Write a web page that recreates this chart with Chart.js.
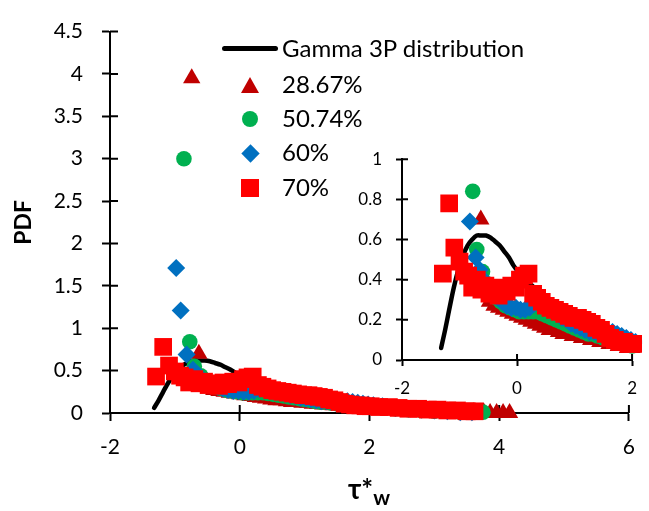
<!DOCTYPE html>
<html>
<head>
<meta charset="utf-8">
<script src="https://cdn.jsdelivr.net/npm/chart.js@4.4.0/dist/chart.umd.min.js"></script>
<style>
  html, body { margin:0; padding:0; background:#fff; }
  #wrap { position:relative; width:649px; height:511px; font-family: Lato, sans-serif; color:#000; }
  #mainChart { position:absolute; left:0; top:0; }
  #insetChart { position:absolute; left:330px; top:135px; }
  .legTxt { position:absolute; left:282px; font-size:24px; line-height:28px; white-space:nowrap; }
  .mk { position:absolute; }
  #xTitle { position:absolute; left:348px; top:471px; font-size:28px; font-weight:bold; white-space:nowrap; }
  #xTitle sub { font-size:21px; vertical-align:-6px; }
</style>
</head>
<body>
<div id="wrap">
  <canvas id="mainChart" width="649" height="511"></canvas>
  <canvas id="insetChart" width="319" height="270"></canvas>

  <!-- leyenda -->
  <div class="mk" style="left:222px;top:46px;width:56px;height:5px;background:#000;border-radius:3px;"></div>
  <div class="legTxt" style="top:34px;">Gamma 3P distribution</div>
  <div class="mk" style="left:241px;top:77px;width:0;height:0;border-left:9px solid transparent;border-right:9px solid transparent;border-bottom:16px solid #C00000;"></div>
  <div class="legTxt" style="top:70px;">28.67%</div>
  <div class="mk" style="left:242px;top:111px;width:16px;height:16px;border-radius:50%;background:#00B050;"></div>
  <div class="legTxt" style="top:104px;">50.74%</div>
  <div class="mk" style="left:243.5px;top:146.5px;width:13px;height:13px;background:#0070C0;transform:rotate(45deg);"></div>
  <div class="legTxt" style="top:138px;">60%</div>
  <div class="mk" style="left:241px;top:179px;width:18px;height:18px;background:#FF0000;"></div>
  <div class="legTxt" style="top:173px;">70%</div>

  <div id="xTitle">τ*<sub>w</sub></div>
</div>

<script>
/* ============================================================
   DATOS
============================================================ */

// Gamma 3P distribution (línea)
const gammaX = [-1.32,-1.25,-1.18,-1.10,-1.02,-0.94,-0.86,-0.78,-0.70,-0.62,-0.54,-0.46,-0.38,-0.30,-0.22,-0.14,-0.06,0.02,0.15,0.30,0.45,0.60,0.80,1.00,1.20,1.40,1.60,1.80,2.00];
const gammaY = [0.06,0.15,0.25,0.36,0.45,0.52,0.57,0.60,0.62,0.62,0.62,0.61,0.59,0.57,0.54,0.51,0.47,0.44,0.40,0.36,0.32,0.28,0.23,0.19,0.16,0.13,0.10,0.08,0.07];

// 28.67%
const triX = [-0.74,-0.63,-0.55,-0.48,-0.40,-0.32,-0.24,-0.16,-0.08,0.00,0.08,0.16,0.24,0.32,0.40,0.48,0.56,0.64,0.72,0.80,0.88,0.96,1.04,1.12,1.20,1.28,1.36,1.44,1.52,1.60,1.68,1.76,1.84,1.92,2.00,2.20,2.40,2.60,2.80,3.00,3.20,3.40,3.60,3.76,3.86,3.96,4.06,4.16];
const triY = [3.95,0.70,0.36,0.29,0.27,0.26,0.25,0.24,0.23,0.22,0.21,0.20,0.19,0.18,0.17,0.16,0.15,0.15,0.14,0.13,0.13,0.12,0.12,0.11,0.11,0.10,0.10,0.09,0.09,0.08,0.08,0.07,0.07,0.06,0.06,0.05,0.04,0.03,0.03,0.02,0.02,0.01,0.01,0.01,0.00,0.00,0.00,0.00];

// 50.74%
const cirX = [-0.86,-0.77,-0.70,-0.60,-0.52,-0.44,-0.36,-0.28,-0.20,-0.12,-0.04,0.04,0.12,0.20,0.28,0.36,0.44,0.52,0.60,0.68,0.76,0.84,0.92,1.00,1.08,1.16,1.24,1.32,1.40,1.50,1.60,1.70,1.80,1.90,2.00,2.20,2.40,2.60,2.80,3.00,3.20,3.40,3.60,3.75];
const cirY = [3.00,0.84,0.55,0.44,0.38,0.34,0.31,0.29,0.27,0.26,0.25,0.24,0.24,0.24,0.24,0.24,0.23,0.22,0.21,0.20,0.19,0.18,0.17,0.16,0.15,0.14,0.13,0.13,0.12,0.11,0.11,0.10,0.09,0.08,0.07,0.06,0.05,0.04,0.03,0.02,0.02,0.01,0.01,0.01];

// 60%
const diaX = [-0.98,-0.91,-0.82,-0.72,-0.65,-0.58,-0.50,-0.42,-0.34,-0.26,-0.18,-0.10,-0.02,0.06,0.14,0.22,0.30,0.38,0.46,0.54,0.62,0.70,0.78,0.86,0.94,1.02,1.10,1.18,1.26,1.34,1.42,1.50,1.58,1.66,1.74,1.82,1.90,1.98,2.06,2.20,2.40,2.60,2.80,3.00,3.20,3.40,3.58];
const diaY = [1.71,1.21,0.69,0.51,0.45,0.40,0.36,0.33,0.31,0.29,0.27,0.26,0.26,0.25,0.25,0.26,0.28,0.29,0.28,0.27,0.25,0.23,0.21,0.20,0.18,0.17,0.16,0.15,0.14,0.14,0.13,0.13,0.14,0.14,0.13,0.12,0.11,0.10,0.09,0.08,0.06,0.05,0.04,0.03,0.02,0.01,0.01];

// 70%
const sqX = [-1.29,-1.18,-1.09,-1.00,-0.92,-0.85,-0.78,-0.70,-0.62,-0.55,-0.48,-0.40,-0.32,-0.25,-0.18,-0.10,-0.02,0.05,0.12,0.20,0.28,0.35,0.43,0.50,0.58,0.66,0.74,0.82,0.90,0.98,1.06,1.14,1.22,1.30,1.38,1.46,1.54,1.62,1.70,1.78,1.86,1.94,2.02,2.15,2.30,2.45,2.60,2.75,2.90,3.05,3.20,3.35,3.50,3.62];
const sqY = [0.43,0.78,0.56,0.49,0.44,0.42,0.36,0.40,0.35,0.37,0.33,0.35,0.32,0.36,0.34,0.37,0.36,0.40,0.42,0.43,0.33,0.31,0.29,0.27,0.26,0.25,0.24,0.23,0.22,0.21,0.21,0.20,0.19,0.18,0.16,0.15,0.13,0.11,0.10,0.09,0.09,0.08,0.08,0.07,0.07,0.06,0.05,0.05,0.04,0.04,0.03,0.03,0.02,0.02];

const zip = (xs, ys) => xs.map((x, i) => ({ x: x, y: ys[i] }));

/* ============================================================
   TICKS CRUZADOS (hacia dentro del área)
============================================================ */

const crossTicks = {
    id: "crossTicks",
    beforeDatasetsDraw(chart, args, opts) {
        const ctx = chart.ctx;
        const len = opts.len || 8;
        const xs = chart.scales.x, ys = chart.scales.y;
        ctx.save();
        ctx.strokeStyle = "#000";
        ctx.lineWidth = 2;
        ctx.beginPath();
        xs.ticks.forEach((t, i) => {
            const px = xs.getPixelForTick(i);
            ctx.moveTo(px, xs.top);
            ctx.lineTo(px, xs.top - len);
        });
        ys.ticks.forEach((t, i) => {
            const py = ys.getPixelForTick(i);
            ctx.moveTo(ys.right, py);
            ctx.lineTo(ys.right + len, py);
        });
        ctx.stroke();
        ctx.restore();
    }
};

function makeDatasets(clip) {
    return [
        { label: "Gamma 3P distribution", data: zip(gammaX, gammaY), showLine: true,
          borderColor: "#000", borderWidth: 4.5, pointRadius: 0, borderCapStyle: "round",
          tension: 0.3, order: 5, clip: clip },
        { label: "28.67%", data: zip(triX, triY), pointStyle: "triangle", pointRadius: 10,
          backgroundColor: "#C00000", borderColor: "#C00000", borderWidth: 0, order: 4, clip: clip },
        { label: "50.74%", data: zip(cirX, cirY), pointStyle: "circle", pointRadius: 7.8,
          backgroundColor: "#00B050", borderColor: "#00B050", borderWidth: 0, order: 3, clip: clip },
        { label: "60%", data: zip(diaX, diaY), pointStyle: "rectRot", pointRadius: 9,
          backgroundColor: "#0070C0", borderColor: "#0070C0", borderWidth: 0, order: 2, clip: clip },
        { label: "70%", data: zip(sqX, sqY), pointStyle: "rect", pointRadius: 12.5,
          backgroundColor: "#FF0000", borderColor: "#FF0000", borderWidth: 0, order: 1, clip: clip }
    ];
}

function axisGrid(len) {
    return { drawOnChartArea: false, drawTicks: true, tickLength: len, tickColor: "#000", tickWidth: 2 };
}

const fmt = v => String(+v.toFixed(2));

/* ============================================================
   GRÁFICO PRINCIPAL
============================================================ */

new Chart(document.getElementById("mainChart"), {
    type: "scatter",
    data: { datasets: makeDatasets(false) },
    plugins: [crossTicks],
    options: {
        responsive: false,
        animation: false,
        layout: { padding: { top: 24, right: 8, left: 0, bottom: 0 } },
        plugins: { legend: { display: false }, tooltip: { enabled: false }, crossTicks: { len: 8 } },
        scales: {
            x: {
                type: "linear", min: -2, max: 6,
                ticks: { stepSize: 2, color: "#000", padding: 14, callback: fmt, font: { family: "Lato", size: 21 } },
                grid: axisGrid(8),
                border: { display: true, color: "#000", width: 2 },
                afterFit(s) { s.height = 98; }
            },
            y: {
                min: 0, max: 4.5,
                ticks: { stepSize: 0.5, color: "#000", padding: 19, callback: fmt, font: { family: "Lato", size: 21 } },
                grid: axisGrid(8),
                border: { display: true, color: "#000", width: 2 },
                title: { display: true, text: "PDF", color: "#000", padding: { top: 10, bottom: 0 },
                         font: { family: "Lato", size: 23, weight: "bold" } },
                afterFit(s) { s.width = 110; }
            }
        }
    }
});

/* ============================================================
   GRÁFICO INSERTADO (zoom)
============================================================ */

new Chart(document.getElementById("insetChart"), {
    type: "scatter",
    data: { datasets: makeDatasets({ left: 12, right: 10, top: 0, bottom: 12 }) },
    plugins: [crossTicks],
    options: {
        responsive: false,
        animation: false,
        layout: { padding: { top: 21.5, right: 15.4, left: 0, bottom: 0 } },
        plugins: { legend: { display: false }, tooltip: { enabled: false }, crossTicks: { len: 6 } },
        scales: {
            x: {
                type: "linear", min: -2, max: 2,
                ticks: { stepSize: 2, color: "#000", padding: 12, callback: fmt, font: { family: "Lato", size: 17 } },
                grid: axisGrid(6),
                border: { display: true, color: "#000", width: 2 },
                afterFit(s) { s.height = 45; }
            },
            y: {
                min: 0, max: 1,
                ticks: { stepSize: 0.2, color: "#000", padding: 14, callback: fmt, font: { family: "Lato", size: 17 } },
                grid: axisGrid(6),
                border: { display: true, color: "#000", width: 2 },
                afterFit(s) { s.width = 72; }
            }
        }
    }
});
</script>
</body>
</html>
